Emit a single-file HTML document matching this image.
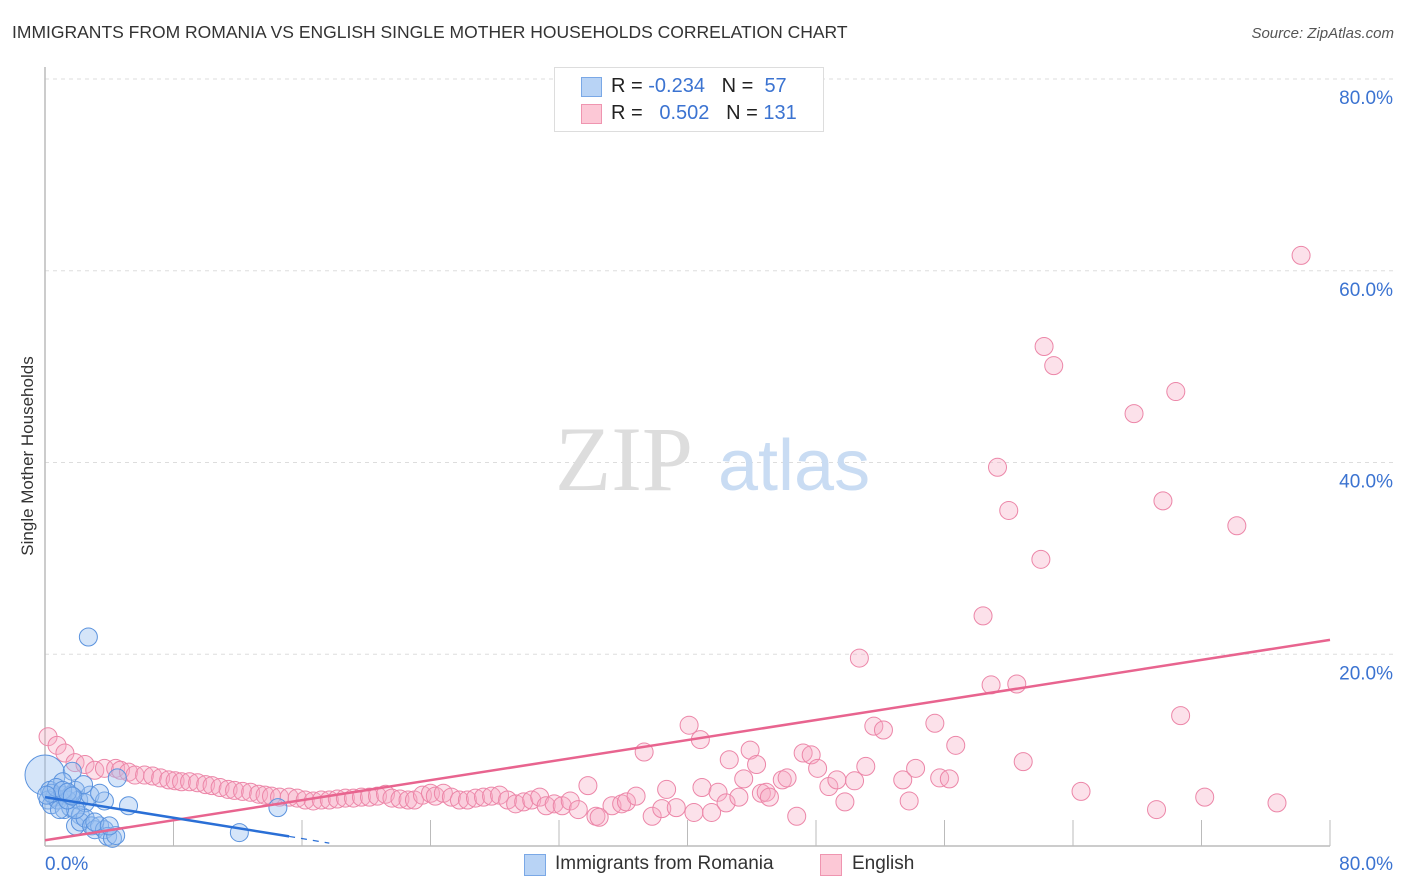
<!DOCTYPE html>
<html><head><meta charset="utf-8">
<style>
body{margin:0;background:#fff;font-family:"Liberation Sans",sans-serif;}
#wrap{position:relative;width:1406px;height:892px;overflow:hidden;}
.t{position:absolute;white-space:nowrap;}
</style></head>
<body>
<div id="wrap">
<div class="t" style="left:12px;top:22px;font-size:17.5px;color:#333;">IMMIGRANTS FROM ROMANIA VS ENGLISH SINGLE MOTHER HOUSEHOLDS CORRELATION CHART</div>
<div class="t" style="right:12px;top:25px;font-size:15px;color:#555;font-style:italic;">Source: ZipAtlas.com</div>
<svg id="plot" width="1406" height="892" style="position:absolute;left:0;top:0"></svg>
<div class="t" style="left:28px;top:456px;font-size:17px;color:#333;transform:translate(-50%,-50%) rotate(-90deg);">Single Mother Households</div>
<div style="position:absolute;left:554px;top:67px;width:268px;height:63px;border:1px solid #ddd;background:#fff;">
 <div style="position:absolute;left:26px;top:9px;width:19px;height:18px;background:#b8d3f5;border:1px solid #7aa8e6;"></div>
 <div class="t" style="left:56px;top:7px;font-size:20px;color:#222;">R = <span style="color:#3b73d1">-0.234</span>&nbsp;&nbsp;&nbsp;N = &nbsp;<span style="color:#3b73d1">57</span></div>
 <div style="position:absolute;left:26px;top:36px;width:19px;height:18px;background:#fcc8d6;border:1px solid #ef95b0;"></div>
 <div class="t" style="left:56px;top:34px;font-size:20px;color:#222;">R = &nbsp;&nbsp;<span style="color:#3b73d1">0.502</span>&nbsp;&nbsp;&nbsp;N = <span style="color:#3b73d1">131</span></div>
</div>
<div style="position:absolute;left:524px;top:854px;width:20px;height:20px;background:#b8d3f5;border:1px solid #7aa8e6;"></div>
<div class="t" style="left:555px;top:853px;font-size:19px;color:#333;">Immigrants from Romania</div>
<div style="position:absolute;left:820px;top:854px;width:20px;height:20px;background:#fcc8d6;border:1px solid #ef95b0;"></div>
<div class="t" style="left:852px;top:853px;font-size:19px;color:#333;">English</div>
</div>
<script>
const yTicks=[20,40,60,80];
const yTickLabels=["20.0%","40.0%","60.0%","80.0%"];
const xTickLabels=["0.0%","80.0%"];
const englishX=[0.19,0.75,1.24,1.87,2.49,3.1,3.7,4.4,4.7,5.2,5.6,6.2,6.7,7.2,7.7,8.1,8.5,9.0,9.5,10.0,10.4,10.9,11.4,11.8,12.3,12.8,13.3,13.7,14.1,14.6,15.2,15.7,16.2,16.7,17.2,17.7,18.2,18.7,19.2,19.7,20.2,20.7,21.2,21.6,22.1,22.6,23.0,23.5,24.0,24.3,24.8,25.3,25.8,26.3,26.8,27.3,27.8,28.3,28.8,29.3,29.8,30.3,30.8,31.2,31.7,32.2,32.7,33.2,33.8,34.3,34.5,35.3,35.9,36.2,36.8,37.3,37.8,38.4,38.7,39.3,40.1,40.4,40.8,40.9,41.5,41.9,42.4,42.6,43.2,43.5,43.9,44.3,44.6,44.9,45.1,45.9,46.2,46.8,47.2,47.7,48.1,48.8,49.3,49.8,50.4,50.7,51.1,51.6,52.2,53.4,53.8,54.2,55.4,55.7,56.3,56.7,58.4,58.9,59.3,60.0,60.5,60.9,62.0,62.2,62.8,64.5,67.8,69.2,69.6,70.4,70.7,72.2,74.2,76.7,78.2];
const englishY=[11.4,10.5,9.7,8.7,8.5,7.9,8.1,8.1,7.9,7.7,7.4,7.4,7.3,7.1,6.9,6.8,6.7,6.7,6.6,6.4,6.3,6.1,5.9,5.8,5.7,5.6,5.4,5.3,5.2,5.1,5.1,5.0,4.8,4.7,4.8,4.8,4.9,5.0,5.0,5.1,5.1,5.2,5.4,5.0,4.9,4.8,4.8,5.3,5.5,5.2,5.5,5.1,4.8,4.8,5.0,5.1,5.2,5.3,4.8,4.4,4.6,4.8,5.1,4.2,4.4,4.2,4.7,3.8,6.3,3.1,3.0,4.2,4.4,4.6,5.2,9.8,3.1,3.9,5.9,4.0,12.6,3.5,11.1,6.1,3.5,5.6,4.5,9.0,5.1,7.0,10.0,8.5,5.5,5.6,5.1,6.9,7.1,3.1,9.7,9.5,8.1,6.2,6.9,4.6,6.8,19.6,8.3,12.5,12.1,6.9,4.7,8.1,12.8,7.1,7.0,10.5,24.0,16.8,39.5,35.0,16.9,8.8,29.9,52.1,50.1,5.7,45.1,3.8,36.0,47.4,13.6,5.1,33.4,4.5,61.6];
const romaniaX=[0,0.3,0.6,0.2,0.4,0.8,1.1,1.2,1.6,1.7,1.9,2.1,2.2,2.5,2.7,2.8,1.9,2.2,2.5,2.9,3.1,3.4,3.7,3.9,4.2,4.4,3.7,4.5,5.2,1.9,0.9,1.4,1.1,12.1,14.5,3.1,4.0,1.6,0.4,2.4,3.4,0.7,1.1,1.4,1.7,0.1];
const romaniaY=[7.4,5.8,5.1,4.8,4.3,4.8,5.3,3.8,4.0,7.8,5.8,4.8,3.2,4.5,21.8,5.3,2.1,2.5,2.9,2.1,1.7,2.1,1.7,1.0,0.8,1.1,4.7,7.1,4.2,3.8,3.8,4.8,6.7,1.4,4.0,2.5,2.1,5.3,5.5,6.4,5.5,6.1,5.8,5.6,5.2,5.3];
const englishTrend=[[0,0.6],[80,21.5]];
const romaniaTrend=[[0,5.1],[15.2,1.0]];
const romaniaTrendExt=[[15.2,1.0],[17.7,0.3]];

const svg=document.getElementById('plot');
const NS='http://www.w3.org/2000/svg';
const X0=45,X1=1330,Y0=846,Y80=79;
const sx=v=>X0+(X1-X0)*v/80;
const sy=v=>Y0-(Y0-Y80)*v/80;
function mk(tag,attrs){const e=document.createElementNS(NS,tag);for(const k in attrs)e.setAttribute(k,attrs[k]);svg.appendChild(e);return e;}
// gridlines & labels
yTicks.forEach((t,i)=>{
 const g=mk('line',{x1:X0,x2:1394,y1:sy(t),y2:sy(t),stroke:'#ddd','stroke-dasharray':'4,4'});
 
 
 const tx=mk('text',{x:1393,y:sy(t)+25,'text-anchor':'end','font-size':'19',fill:'#3b73d1','font-family':'Liberation Sans, sans-serif'});
 tx.textContent=yTickLabels[i];
 
 
});
// axes
const ya=mk('line',{x1:X0,x2:X0,y1:67,y2:Y0,stroke:'#bbb','stroke-width':1.5});


const xa=mk('line',{x1:X0,x2:X1,y1:Y0,y2:Y0,stroke:'#bbb','stroke-width':1.5});


for(let i=1;i<=10;i++){
 const tk=mk('line',{x1:sx(i*8),x2:sx(i*8),y1:Y0-26,y2:Y0,stroke:'#bbb'});
 
 
}
[[0,'start'],[80,'end']].forEach((p,i)=>{
 const tx=mk('text',{x:i?1393:45,y:870,'text-anchor':p[1],'font-size':'19',fill:'#3b73d1','font-family':'Liberation Sans, sans-serif'});
 tx.textContent=xTickLabels[i];
 
 
});
// watermark
const w1=mk('text',{x:555,y:490,'font-size':'92',fill:'#ddd','font-family':'Liberation Serif, serif'});
w1.textContent='ZIP';


const w2=mk('text',{x:718,y:490,'font-size':'72',fill:'#c9dcf3','font-family':'Liberation Sans, sans-serif'});
w2.textContent='atlas';


// english points
englishX.forEach((x,i)=>{
 const c=mk('circle',{cx:sx(x),cy:sy(englishY[i]),r:9,fill:'rgba(247,168,194,0.35)',stroke:'#ec86a8','stroke-width':1});
 
 
});
// romania points
romaniaX.forEach((x,i)=>{
 const c=mk('circle',{cx:sx(x),cy:sy(romaniaY[i]),r:i===0?20:9,fill:'rgba(150,190,240,0.4)',stroke:'#5b93de','stroke-width':1});
 
 
});
const l1=mk('line',{x1:sx(englishTrend[0][0]),y1:sy(englishTrend[0][1]),x2:sx(englishTrend[1][0]),y2:sy(englishTrend[1][1]),stroke:'#e8648f','stroke-width':2.5});


const l2=mk('line',{x1:sx(romaniaTrend[0][0]),y1:sy(romaniaTrend[0][1]),x2:sx(romaniaTrend[1][0]),y2:sy(romaniaTrend[1][1]),stroke:'#2a6fd6','stroke-width':2.5});


const l3=mk('line',{x1:sx(romaniaTrendExt[0][0]),y1:sy(romaniaTrendExt[0][1]),x2:sx(romaniaTrendExt[1][0]),y2:sy(romaniaTrendExt[1][1]),stroke:'#2a6fd6','stroke-width':1.2,'stroke-dasharray':'6,6'});


</script>
</body></html>
